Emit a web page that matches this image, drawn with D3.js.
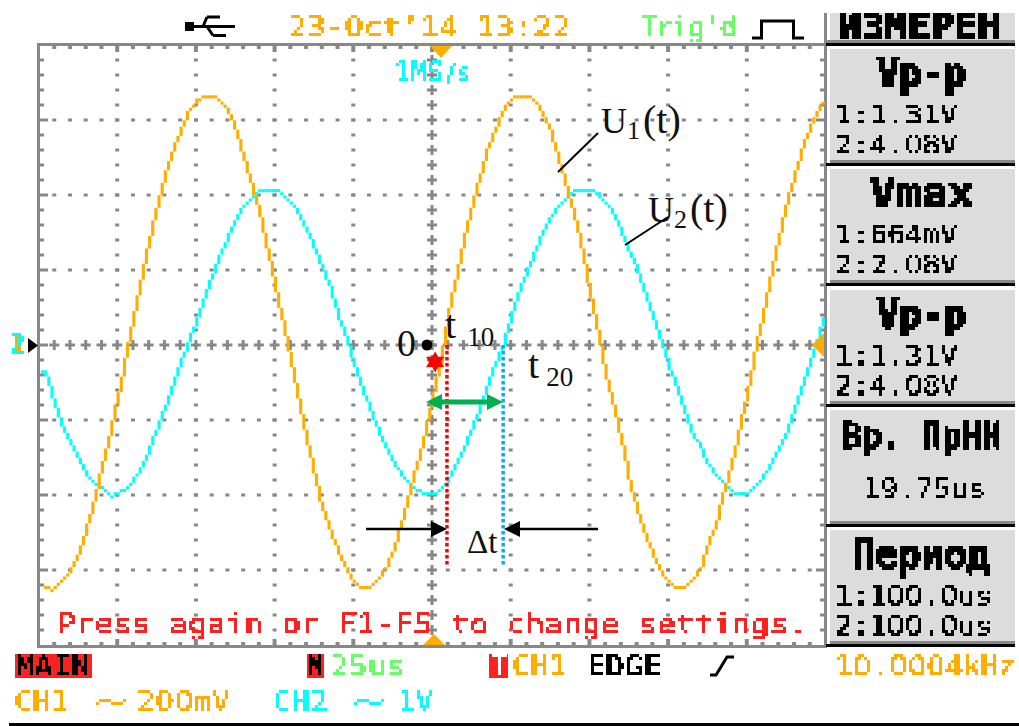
<!DOCTYPE html>
<html>
<head>
<meta charset="utf-8">
<script src="https://cdn.jsdelivr.net/npm/d3@7"></script>
<style>
  html, body { margin: 0; padding: 0; background: #fff; }
  svg { display: block; }
</style>
</head>
<body>
<div id="chart"></div>
<script>
// sample times in us, one reading every 2.5us across the screen
const sampleTimes = d3.range(-125, 125.1, 2.5);

// CH1 (mV)
const ch1Values = [
  -645, -651, -651, -629, -603, -560, -491, -413, -325, -235,
  -139, -32, 77, 179, 280, 368, 451, 520, 571, 621,
  648, 661, 664, 645, 616, 568, 491, 421, 344, 248,
  152, 48, -48, -160, -259, -357, -443, -504, -555, -605,
  -640, -651, -648, -629, -600, -549, -477, -397, -320, -235,
  -141, -43, 85, 179, 285, 371, 448, 523, 576, 627,
  651, 664, 661, 643, 611, 563, 488, 413, 339, 245,
  128, 27, -83, -171, -261, -371, -445, -512, -563, -613,
  -640, -651, -645, -629, -600, -533, -477, -392, -317, -221,
  -125, -13, 85, 192, 285, 381, 453, 525, 581, 627, 648
];

// CH2 (V)
const ch2Values = [
  -0.23, -0.48, -0.81, -1.12, -1.33, -1.55, -1.75, -1.85, -1.95, -2.01,
  -2.00, -1.92, -1.81, -1.64, -1.40, -1.11, -0.83, -0.53, -0.23, 0.04,
  0.32, 0.61, 0.92, 1.20, 1.44, 1.67, 1.84, 1.95, 2.04, 2.08,
  2.05, 1.99, 1.87, 1.72, 1.52, 1.25, 1.00, 0.73, 0.36, 0.07,
  -0.28, -0.59, -0.87, -1.15, -1.40, -1.59, -1.75, -1.87, -1.95, -2.00,
  -2.00, -1.95, -1.80, -1.60, -1.37, -1.12, -0.84, -0.55, -0.24, 0.01,
  0.40, 0.72, 0.97, 1.25, 1.49, 1.68, 1.85, 1.96, 2.04, 2.08,
  2.07, 1.99, 1.87, 1.72, 1.48, 1.21, 0.97, 0.67, 0.36, 0.03,
  -0.31, -0.59, -0.91, -1.20, -1.39, -1.63, -1.76, -1.87, -1.96, -2.00,
  -1.97, -1.91, -1.77, -1.59, -1.40, -1.16, -0.83, -0.56, -0.23, 0.09, 0.47
];

// side menu
const menuTitle = "ИЗМЕРЕН";
const panelTitles = ["Vp-p", "Vmax", "Vp-p", "Вр. ПрНН", "Период"];
const panelLine1 = ["1:1.31V", "1:664mV", "1:1.31V", "19.75us", "1:100.0us"];
const panelLine2 = ["2:4.08V", "2:2.08V", "2:4.08V", "", "2:100.0us"];

// annotated times: t10, t20 in us
const t10 = 4.75;
const t20 = 22.6;

const width = 1019;
const height = 726;

const orange = "#ffae00";
const cyan = "#00ffff";
const grey = "#888888";
const mono = "'DejaVu Sans Mono', monospace";
const serif = "'Liberation Serif', serif";

const svg = d3.select("#chart").append("svg")
  .attr("width", width)
  .attr("height", height);

// pixel mosaic so the screen text looks like the LCD font
const filter = svg.append("defs").append("filter")
  .attr("id", "lcd")
  .attr("filterUnits", "userSpaceOnUse")
  .attr("primitiveUnits", "userSpaceOnUse")
  .attr("x", 0).attr("y", 0).attr("width", width).attr("height", height)
  .attr("color-interpolation-filters", "sRGB");
filter.append("feFlood").attr("x", 1).attr("y", 1).attr("width", 1).attr("height", 1);
filter.append("feComposite").attr("width", 3).attr("height", 3);
filter.append("feTile").attr("result", "cells");
filter.append("feComposite").attr("in", "SourceGraphic").attr("in2", "cells").attr("operator", "in");
filter.append("feComponentTransfer").append("feFuncA")
  .attr("type", "discrete").attr("tableValues", "0 1 1 1 1 1");
filter.append("feMorphology").attr("operator", "dilate").attr("radius", 1);

svg.select("defs").append("clipPath").attr("id", "menuClip")
  .append("rect").attr("x", 826).attr("y", 13).attr("width", 193).attr("height", 28);

// scales
const x = d3.scaleLinear().domain([-125, 125]).range([38.5, 825.5]);
const yDiv = d3.scaleLinear().domain([-4, 4]).range([645, 45]);
const yCh1 = d3.scaleLinear().domain([-800, 800]).range([645, 45]);
const yCh2 = d3.scaleLinear().domain([-4, 4]).range([645, 45]);

// grid
const grid = svg.append("g").attr("fill", grey);
const xMajor = d3.range(-100, 101, 25);
const yMajor = d3.range(-3, 4, 1);
const xSub = d3.range(-120, 121, 5);
const ySub = d3.range(-3.8, 3.81, 0.2);

function dots(xs, ys, w, h) {
  xs.forEach(function (a) {
    grid.selectAll(null)
      .data(ys)
      .enter()
      .append("rect")
      .attr("x", x(a) - w / 2)
      .attr("y", d => yDiv(d) - h / 2)
      .attr("width", w)
      .attr("height", h);
  });
}

dots(xMajor.filter(d => d !== 0), ySub, 4, 3);
yMajor.filter(d => d !== 0).forEach(function (d) {
  dots(xSub, [d], 4, 3);
});

// centre cross has small plus marks
dots([0], ySub, 3, 10);
dots([0], ySub, 10, 3);
dots(xSub, [0], 3, 10);
dots(xSub, [0], 10, 3);

// frame with inward ticks
grid.append("rect").attr("x", 37).attr("y", 43).attr("width", 3).attr("height", 604);
grid.append("rect").attr("x", 37).attr("y", 43).attr("width", 789).attr("height", 3);
grid.append("rect").attr("x", 37).attr("y", 645).attr("width", 789).attr("height", 3);
grid.append("rect").attr("x", 824).attr("y", 13).attr("width", 3).attr("height", 635);

xSub.forEach(function (d) {
  const len = d % 25 === 0 ? 6 : 3;
  grid.append("rect").attr("x", x(d) - 2).attr("y", 46).attr("width", 4).attr("height", len);
  grid.append("rect").attr("x", x(d) - 2).attr("y", 645 - len).attr("width", 4).attr("height", len);
});
ySub.forEach(function (d) {
  const len = Math.abs(d - Math.round(d)) < 0.01 ? 8 : 4;
  grid.append("rect").attr("x", 40).attr("y", yDiv(d) - 1.5).attr("width", len).attr("height", 3);
  grid.append("rect").attr("x", 824 - len).attr("y", yDiv(d) - 1.5).attr("width", len).attr("height", 3);
});

// traces, snapped to the LCD pixels of the scope
const cols = d3.range(0, 250).map(i => 41 + i * 3.148);
const cellH = 3.125;

function drawTrace(values, yScale, color, firstX, lastX) {
  const read = d3.scaleLinear().domain(sampleTimes).range(values);
  let prev = null;
  const cells = [];
  cols.filter(c => c >= firstX && c <= lastX).forEach(function (c) {
    const row = Math.round(yScale(read(x.invert(c + 1.5))) / cellH) * cellH;
    const top = prev === null ? row : Math.min(prev, row);
    const bottom = prev === null ? row : Math.max(prev, row);
    cells.push({ c: c, top: top, h: Math.max(bottom - top, cellH) });
    prev = row;
  });
  svg.append("g").selectAll("rect")
    .data(cells)
    .enter()
    .append("rect")
    .attr("x", d => d.c)
    .attr("y", d => d.top - cellH / 2)
    .attr("width", 3.15)
    .attr("height", d => d.h)
    .attr("fill", color);
}

drawTrace(ch2Values, yCh2, cyan, 41, 822);
drawTrace(ch1Values, yCh1, orange, 44, 822);

// LCD text. Zeros come from the plain sans face, the mono one blurs into an 8 in the mosaic
const lcd = svg.append("g").attr("filter", "url(#lcd)");

function label(parent, str, px, py, color, size, w, thick) {
  const t = parent.append("text")
    .attr("x", px)
    .attr("y", py)
    .attr("fill", color)
    .attr("font-family", mono)
    .attr("font-size", size)
    .attr("textLength", w)
    .attr("lengthAdjust", "spacingAndGlyphs");
  if (thick) {
    t.attr("font-weight", "bold").attr("stroke", color).attr("stroke-width", thick);
  }
  str.split(/(0)/).filter(s => s.length).forEach(function (s) {
    const span = t.append("tspan").text(s);
    if (s === "0") span.attr("font-family", "'DejaVu Sans', sans-serif");
  });
  return t;
}

label(lcd, "23-Oct’14 13:22", 288, 37, orange, 29, 283);
label(lcd, "Trig’d", 641, 37, "#66ff66", 29, 95);
label(lcd, "Press again or F1-F5 to change settings.", 57, 634, "#ff2020", 29, 750);

label(lcd, "1MS", 394, 82, cyan, 29, 50);
label(lcd, "/s", 445, 82, cyan, 26, 24);

// markers on the frame
svg.append("path").attr("fill", orange).attr("d", d3.line()([[430, 46], [452, 46], [441, 58]]));
svg.append("path").attr("fill", orange).attr("d", d3.line()([[423, 645], [445, 645], [434, 634]]));
svg.append("path").attr("fill", orange).attr("d", d3.line()([[824, 333], [824, 357], [812, 345]]));
svg.append("path").attr("fill", "#000").attr("d", d3.line()([[28, 338], [28, 353], [38, 345.5]]));
label(lcd, "1", 9, 354, orange, 28, 16);
label(lcd, "2", 9, 354, cyan, 28, 16);

// usb and trigger icons
const icons = svg.append("g").attr("fill", "none").attr("stroke", "#000").attr("stroke-width", 3);
svg.append("rect").attr("x", 185).attr("y", 22).attr("width", 9).attr("height", 9);
icons.append("path").attr("d", "M194 26.5H235M207 17H220M207 17L203 26.5M213 35.5H226M213 35.5L207 26.5");
icons.append("path").attr("d", "M752 38H761.5V21H793.5V38H804");
icons.append("path").attr("d", "M710 675H716L727 657H734");

// side panels
const panelTops = [49, 169, 290, 410, 530];
const panelH = 111;

svg.append("rect").attr("x", 830).attr("y", 13).attr("width", 185).attr("height", 27).attr("fill", "#dcdcdc");
svg.append("rect").attr("x", 826).attr("y", 40).attr("width", 189).attr("height", 3).attr("fill", grey);
svg.append("rect").attr("x", 826).attr("y", 43).attr("width", 189).attr("height", 3).attr("fill", "#000");

panelTops.forEach(function (top) {
  svg.append("rect").attr("x", 830).attr("y", top).attr("width", 185).attr("height", panelH).attr("fill", "#dcdcdc");
  svg.append("rect").attr("x", 830).attr("y", top + panelH).attr("width", 185).attr("height", 3).attr("fill", grey);
  svg.append("rect").attr("x", 826).attr("y", top + panelH + 3).attr("width", 189).attr("height", 3).attr("fill", "#000");
});

const lcdTop = svg.append("g").attr("filter", "url(#lcd)");

svg.append("g").attr("clip-path", "url(#menuClip)").attr("filter", "url(#lcd)")
  .call(g => label(g, menuTitle, 838, 39, "#000", 37, 163, 1.2));

const titleX = [877, 870, 877, 842, 852];
const titleW = [89, 104, 89, 160, 138];
const titleSize = [40, 40, 40, 36, 40];
const titleThick = [1.2, 1.2, 1.2, 0.5, 1.2];

panelTitles.forEach(function (d, i) {
  label(lcdTop, d, titleX[i], panelTops[i] + 38, "#000", titleSize[i], titleW[i], titleThick[i]);
});

panelLine1.forEach(function (d, i) {
  const px = i === 3 ? 863 : 835;
  const py = i === 3 ? panelTops[i] + 88 : panelTops[i] + 75;
  label(lcdTop, d, px, py, "#000", 27, d.length * 17.5);
});

panelLine2.forEach(function (d, i) {
  if (d.length) label(lcdTop, d, 835, panelTops[i] + 105, "#000", 27, d.length * 17.5);
});

// status rows
svg.append("rect").attr("x", 15).attr("y", 654).attr("width", 77).attr("height", 24).attr("fill", "#ff2020");
svg.append("rect").attr("x", 307).attr("y", 654).attr("width", 17).attr("height", 24).attr("fill", "#ff2020");
svg.append("rect").attr("x", 489).attr("y", 654).attr("width", 19).attr("height", 24).attr("fill", "#ff2020");
const status = svg.append("g").attr("filter", "url(#lcd)");
label(status, "MAIN", 16, 676, "#000", 29, 74);
label(status, "M", 308, 676, "#000", 29, 15);
label(status, "T", 491, 676, "#fff", 29, 15);
label(status, "25us", 330, 676, "#66ff66", 29, 75);
label(status, "CH1", 512, 676, orange, 29, 55);
label(status, "EDGE", 587, 676, "#000", 29, 75);
label(status, "10.0004kHz", 835, 676, orange, 29, 181);
label(status, "CH1", 14, 711, orange, 29, 55);
label(status, "~", 95, 711, orange, 29, 32);
label(status, "200mV", 137, 711, orange, 29, 93);
label(status, "CH2", 273, 711, cyan, 29, 55);
label(status, "~", 353, 711, cyan, 29, 32);
label(status, "1V", 398, 711, cyan, 29, 35);

svg.append("rect").attr("x", 9).attr("y", 723).attr("width", 1010).attr("height", 3).attr("fill", "#000");

// annotations added on top of the screenshot
const notes = svg.append("g");

function note(parts, px, py) {
  const t = notes.append("text")
    .attr("x", px).attr("y", py)
    .attr("font-family", serif)
    .attr("fill", "#111");
  parts.forEach(function (p) {
    t.append("tspan")
      .attr("font-size", p[1])
      .attr("dy", p[2] || 0)
      .attr("dx", p[3] || 0)
      .text(p[0]);
  });
}

note([["U", 36], ["1", 26, 6], ["(t)", 40, -6, 3]], 601, 133);
note([["U", 36], ["2", 26, 6], ["(t)", 40, -6, 3]], 648, 222);
note([["t", 40], ["10", 27, 8, 11]], 445, 338);
note([["t", 40], ["20", 27, 8, 7]], 528, 378);
note([["0", 38]], 397, 356);
note([["Δt", 33]], 467, 553);

// leader lines
notes.append("path").attr("stroke", "#000").attr("stroke-width", 2).attr("fill", "none")
  .attr("d", "M558 172L598 133M625 245L668 217");

// origin dot and trigger star
notes.append("circle").attr("cx", x(-1.6)).attr("cy", yDiv(0)).attr("r", 5.5).attr("fill", "#000");
const starPoints = d3.range(12).map(i => [i * Math.PI / 6, i % 2 ? 6 : 10.5]);
notes.append("path")
  .attr("transform", "translate(" + x(1) + "," + yCh1(-45) + ")")
  .attr("fill", "#ff0000")
  .attr("d", d3.lineRadial().curve(d3.curveLinearClosed)(starPoints));

// t10 and t20 markers
const markers = [[t10, "#ff0000"], [t20, "#00b0f0"]];
notes.selectAll("line.marker")
  .data(markers)
  .enter()
  .append("line")
  .attr("class", "marker")
  .attr("x1", d => x(d[0]))
  .attr("x2", d => x(d[0]))
  .attr("y1", yDiv(0))
  .attr("y2", 566)
  .attr("stroke", d => d[1])
  .attr("stroke-width", 3.5)
  .attr("stroke-dasharray", "3.5 2.5");

// arrows
function arrowHead(tipX, tipY, dir, len, half, color) {
  notes.append("path")
    .attr("fill", color)
    .attr("d", d3.line()([[tipX, tipY], [tipX - dir * len, tipY - half], [tipX - dir * len, tipY + half]]));
}

notes.append("line").attr("x1", 440).attr("x2", 490).attr("y1", 402).attr("y2", 402)
  .attr("stroke", "#00b050").attr("stroke-width", 5);
arrowHead(426, 402, -1, 16, 8, "#00b050");
arrowHead(503, 402, 1, 16, 8, "#00b050");

notes.append("line").attr("x1", 366).attr("x2", 435).attr("y1", 529).attr("y2", 529)
  .attr("stroke", "#000").attr("stroke-width", 2.5);
arrowHead(447, 529, 1, 16, 8, "#000");
notes.append("line").attr("x1", 515).attr("x2", 598).attr("y1", 529).attr("y2", 529)
  .attr("stroke", "#000").attr("stroke-width", 2.5);
arrowHead(504, 529, -1, 16, 8, "#000");
</script>
</body>
</html>
